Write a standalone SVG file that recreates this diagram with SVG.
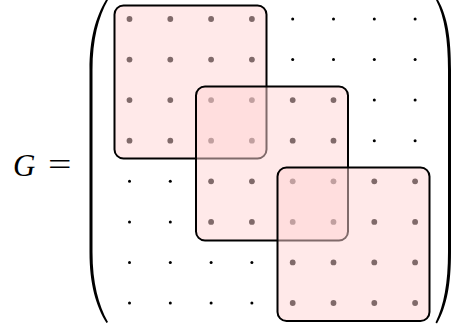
<svg xmlns="http://www.w3.org/2000/svg" width="456" height="332" viewBox="0 0 456 332">
<style>
.lbl{font-family:"Liberation Serif","Times New Roman",serif;font-size:31px;fill:#000}
.blk{fill:#ffd4d4;fill-opacity:0.5;stroke:#000;stroke-width:2}
.par{fill:#000}
</style>
<defs>
<circle id="s" r="1.5"/>
<circle id="b" r="2.9"/>
</defs>
<rect width="456" height="332" fill="#fff"/>
<g id="label">
<text class="lbl" x="13" y="175.5" font-size="32" font-style="italic">G</text>
<text class="lbl" x="48" y="175" textLength="23.5" lengthAdjust="spacingAndGlyphs">=</text>
</g>
<g id="parens">
<path class="par" d="M106.5,-1 C96,16 89.5,38 89.5,70 L89.5,252 C89.5,284 96,306 106.5,323 L108,322 C98.5,305 92.5,283 92.5,252 L92.5,70 C92.5,39 98.5,17 108,0 Z"/>
<path class="par" d="M437.5,-1 C447.5,16 451,38 451,70 L451,252 C451,284 447,306 437,323.5 L435.5,322.5 C444,305 448,283 448,252 L448,70 C448,39 444.5,17 436,0 Z"/>
</g>
<g id="dots">
<use href="#b" x="129.5" y="19"/><use href="#b" x="170.3" y="19"/><use href="#b" x="211.1" y="19"/><use href="#b" x="251.9" y="19"/>
<use href="#s" x="292.7" y="19"/><use href="#s" x="333.5" y="19"/><use href="#s" x="374.3" y="19"/><use href="#s" x="415.1" y="19"/>
<use href="#b" x="129.5" y="59.6"/><use href="#b" x="170.3" y="59.6"/><use href="#b" x="211.1" y="59.6"/><use href="#b" x="251.9" y="59.6"/>
<use href="#s" x="292.7" y="59.6"/><use href="#s" x="333.5" y="59.6"/><use href="#s" x="374.3" y="59.6"/><use href="#s" x="415.1" y="59.6"/>
<use href="#b" x="129.5" y="100.1"/><use href="#b" x="170.3" y="100.1"/><use href="#b" x="211.1" y="100.1"/><use href="#b" x="251.9" y="100.1"/>
<use href="#b" x="292.7" y="100.1"/><use href="#b" x="333.5" y="100.1"/><use href="#s" x="374.3" y="100.1"/><use href="#s" x="415.1" y="100.1"/>
<use href="#b" x="129.5" y="140.7"/><use href="#b" x="170.3" y="140.7"/><use href="#b" x="211.1" y="140.7"/><use href="#b" x="251.9" y="140.7"/>
<use href="#b" x="292.7" y="140.7"/><use href="#b" x="333.5" y="140.7"/><use href="#s" x="374.3" y="140.7"/><use href="#s" x="415.1" y="140.7"/>
<use href="#s" x="129.5" y="181.3"/><use href="#s" x="170.3" y="181.3"/><use href="#b" x="211.1" y="181.3"/><use href="#b" x="251.9" y="181.3"/>
<use href="#b" x="292.7" y="181.3"/><use href="#b" x="333.5" y="181.3"/><use href="#b" x="374.3" y="181.3"/><use href="#b" x="415.1" y="181.3"/>
<use href="#s" x="129.5" y="221.9"/><use href="#s" x="170.3" y="221.9"/><use href="#b" x="211.1" y="221.9"/><use href="#b" x="251.9" y="221.9"/>
<use href="#b" x="292.7" y="221.9"/><use href="#b" x="333.5" y="221.9"/><use href="#b" x="374.3" y="221.9"/><use href="#b" x="415.1" y="221.9"/>
<use href="#s" x="129.5" y="262.4"/><use href="#s" x="170.3" y="262.4"/><use href="#s" x="211.1" y="262.4"/><use href="#s" x="251.9" y="262.4"/>
<use href="#b" x="292.7" y="262.4"/><use href="#b" x="333.5" y="262.4"/><use href="#b" x="374.3" y="262.4"/><use href="#b" x="415.1" y="262.4"/>
<use href="#s" x="129.5" y="303"/><use href="#s" x="170.3" y="303"/><use href="#s" x="211.1" y="303"/><use href="#s" x="251.9" y="303"/>
<use href="#b" x="292.7" y="303"/><use href="#b" x="333.5" y="303"/><use href="#b" x="374.3" y="303"/><use href="#b" x="415.1" y="303"/>
</g>
<g id="block1"><rect class="blk" x="114.5" y="5.5" width="152" height="153" rx="9"/></g>
<g id="block2"><rect class="blk" x="196" y="86.5" width="152" height="154" rx="9"/></g>
<g id="block3"><rect class="blk" x="277.5" y="167.5" width="152" height="153.5" rx="9"/></g>
<g id="connectors"/>
</svg>
